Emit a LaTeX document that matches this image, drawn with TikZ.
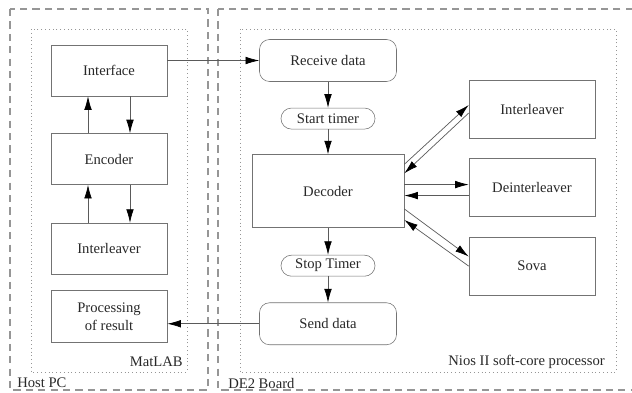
\documentclass[tikz,border=0pt]{standalone}
\usepackage{fontspec}
\setmainfont{Liberation Serif}[Ligatures=TeX]
\usepackage{tikz}
\usetikzlibrary{positioning,arrows.meta}
\definecolor{boxgray}{RGB}{115,115,115}
\definecolor{framegray}{RGB}{150,150,150}
\definecolor{textgray}{RGB}{40,40,40}
\definecolor{linegray}{RGB}{90,90,90}

\begin{document}
\begin{tikzpicture}[
  font=\rmfamily\fontsize{10.4}{13}\selectfont,
  block/.style={draw=boxgray, fill=white, minimum width=2.9cm,
    minimum height=1.275cm, text=textgray, align=center, inner sep=1pt},
  roundbox/.style={draw=boxgray, fill=white, rounded corners=0.25cm,
    minimum width=3.425cm, minimum height=1.05cm, text=textgray, align=center},
  timerbox/.style={draw=boxgray, fill=white, rounded corners=0.26cm,
    minimum width=2.35cm, minimum height=0.525cm, inner sep=1pt, text=textgray},
  sidebox/.style={draw=boxgray, fill=white, minimum width=3.15cm,
    minimum height=1.45cm, text=textgray, align=center},
  outer/.style={draw=framegray, line width=0.8pt, dash pattern=on 1.8mm off 1.3mm},
  inner/.style={draw=framegray, line width=0.7pt, dotted},
  lbl/.style={text=textgray, inner sep=0pt},
  arr/.style={-{Latex[length=3.4mm,width=1.9mm,color=black]}, draw=linegray, line width=0.5pt},
]
  \clip (0,0) rectangle (15.8,-9.8);

  \draw[outer] (0.25,-0.225) rectangle (5.2,-9.75);
  \draw[inner] (0.775,-0.725) rectangle (4.675,-9.3);
  \draw[outer] (5.45,-0.225) rectangle (16.3,-9.75);
  \draw[inner] (6.0,-0.725) rectangle (15.4,-9.3);

  \node[lbl, anchor=west] (hostpc) at (0.425,-9.575) {Host PC};
  \node[lbl, anchor=east] (matlab) at (4.575,-9.05) {MatLAB};
  \node[lbl, anchor=west] (board) at (5.7,-9.575) {DE2 Board};
  \node[lbl, anchor=east] (nios) at (15.125,-9.05) {Nios II soft-core processor};

  \node[block] (iface) at (2.725,-1.7625) {Interface};
  \node[block, below=0.925cm of iface] (enc) {Encoder};
  \node[block, below=0.95cm of enc] (ilvpc) {Interleaver};
  \node[block, below=0.4cm of ilvpc, minimum height=1.3cm] (proc) {Processing\\of result};

  \node[roundbox] (recv) at (8.2,-1.5125) {Receive data};
  \node[timerbox, below=0.65cm of recv] (start) {Start timer};
  \node[block, below=0.625cm of start, minimum width=3.8cm, minimum height=1.825cm] (dec) {Decoder};
  \node[timerbox, below=0.675cm of dec] (stop) {Stop Timer};
  \node[roundbox, below=0.65cm of stop] (send) {Send data};

  \node[sidebox] (ilv) at (13.3,-2.725) {Interleaver};
  \node[sidebox, below=0.5cm of ilv] (deilv) {Deinterleaver};
  \node[sidebox, below=0.5cm of deilv] (sova) {Sova};

  \draw[arr] ([xshift=-0.525cm]enc.north) -- ([xshift=-0.525cm]iface.south);
  \draw[arr] ([xshift=0.525cm]iface.south) -- ([xshift=0.525cm]enc.north);
  \draw[arr] ([xshift=-0.525cm]ilvpc.north) -- ([xshift=-0.525cm]enc.south);
  \draw[arr] ([xshift=0.525cm]enc.south) -- ([xshift=0.525cm]ilvpc.north);

  \draw[arr] (recv.west -| iface.east) -- (recv.west);
  \draw[arr] (send.west) -- (send.west -| proc.east);

  \draw[arr] (recv) -- (start);
  \draw[arr] (start) -- (dec);
  \draw[arr] (dec) -- (stop);
  \draw[arr] (stop) -- (send);

  \draw[arr] ([yshift=-0.25cm]dec.north east) -- ([yshift=0.1cm]ilv.west);
  \draw[arr] ([yshift=-0.1cm]ilv.west) -- ([yshift=-0.475cm]dec.north east);
  \draw[arr] ([yshift=0.075cm]dec.east |- deilv.west) -- ([yshift=0.075cm]deilv.west);
  \draw[arr] ([yshift=-0.2cm]deilv.west) -- ([yshift=-0.2cm]deilv.west -| dec.east);
  \draw[arr] ([yshift=0.475cm]dec.south east) -- ([yshift=0.24cm]sova.west);
  \draw[arr] (sova.west) -- ([yshift=0.2cm]dec.south east);
\end{tikzpicture}
\end{document}
